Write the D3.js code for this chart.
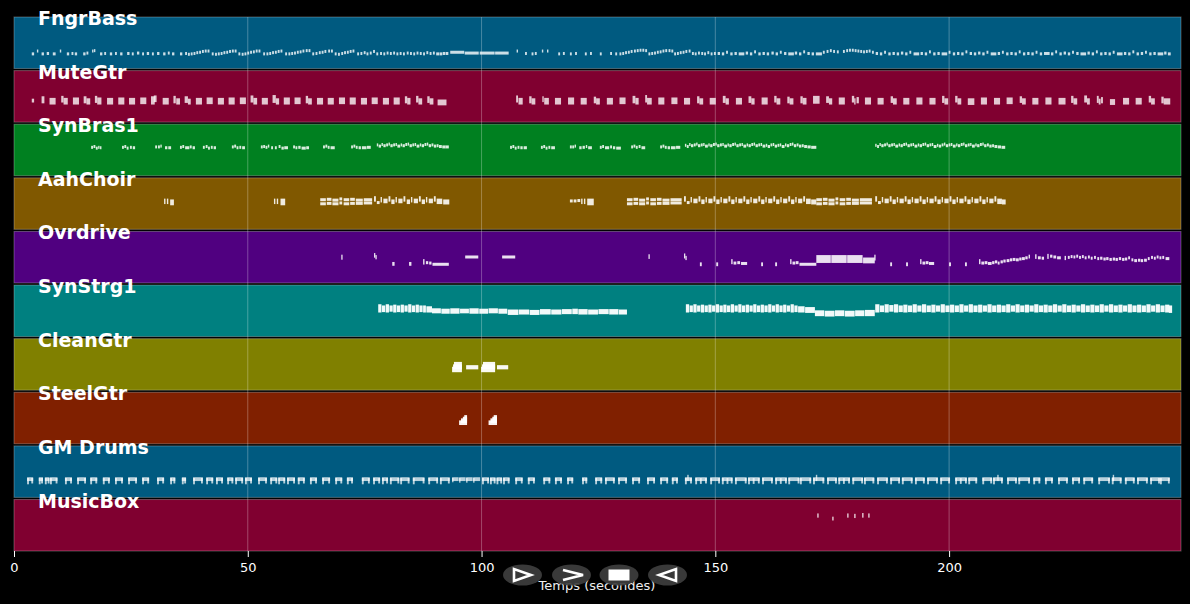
<!DOCTYPE html>
<html><head><meta charset="utf-8">
<script src="https://cdn.jsdelivr.net/npm/d3@7"></script>
<style>
html,body{margin:0;padding:0;background:#000;}
svg{display:block;}
</style></head><body>
<svg id="chart" width="1190" height="604"></svg>
<script>
const tracks = ["FngrBass","MuteGtr","SynBras1","AahChoir","Ovrdrive","SynStrg1","CleanGtr","SteelGtr","GM Drums","MusicBox"];
const trackColors = ["#005a80","#800030","#008020","#805800","#500080","#008080","#808000","#802000","#005a80","#800030"];
const xTicks = [0,50,100,150,200];
const songLength = 249.6;
const axisTitle = "Temps (secondes)";
// notes: [start (s), duration (s), pitch low, pitch high (optional, chords)]
const fngrBass = [
[3.8,.5,36],[4.9,.3,43],[5.9,.5,36],[7.0,.5,37],[8.3,.6,36],[9.8,.3,43],[11.3,.5,36],[12.3,.4,37],[13.0,.5,36],[14.8,.5,36],[15.5,.4,38],[16.7,.3,43],[17.1,.3,44],[18.4,.5,36],[19.3,.4,37],[20.5,.5,36],[21.6,.4,37],[22.7,.5,36],[24.2,.5,37],[25.2,.4,36],[26.3,.5,38],[27.4,.4,36],[28.4,.5,37],[29.5,.4,36],[30.6,.5,37],[31.9,.5,36],[32.9,.4,38],[33.8,.5,36],[35.5,.5,36],[36.6,.4,37],
[37.2,.4,35],[37.8,.4,36],[38.4,.4,37],[39.0,.4,39],[39.6,.4,40],[40.2,.4,42],[40.8,.4,43],[41.4,.4,43],[42.3,.4,36],[43.0,.4,35],[43.6,.4,36],[44.2,.4,37],[44.8,.4,39],[45.4,.4,40],[46.0,.4,42],[46.6,.4,43],[47.2,.4,43],[48.0,.4,36],[48.7,.4,35],[49.3,.4,36],[49.9,.4,38],[50.5,.4,40],[51.1,.4,41],[51.7,.4,43],[52.3,.4,43],[53.3,.4,36],[54.0,.4,36],[54.6,.4,37],[55.2,.4,39],[55.8,.4,40],[56.4,.4,42],[57.0,.4,43],[58.0,.4,36],[58.7,.4,36],[59.3,.4,37],[59.9,.4,38],[60.5,.4,40],[61.1,.4,41],[61.7,.4,43],[62.4,.4,44],[63.0,.4,44],[63.8,.4,36],[64.5,.4,37],[65.2,.4,39],[65.8,.4,40],[66.4,.4,42],[67.2,.4,43],[67.8,.4,43],[68.6,.4,36],[69.3,.4,35],[70.0,.4,37],[70.6,.4,39],[71.2,.4,40],[71.8,.4,42],[72.4,.4,43],[73.4,.4,36],[74.1,.4,37],[74.8,.4,39],[75.4,.4,36],[76.1,.4,38],[76.8,.4,42],[77.5,.4,36],[78.3,.4,37],[79.0,.4,36],[79.7,.4,38],[80.4,.4,37],[81.1,.4,38],[81.8,.4,36],[82.5,.4,37],[83.2,.4,36],[84.0,.4,38],[84.7,.4,37],[85.4,.4,36],[86.1,.4,38],[86.8,.4,37],[87.5,.4,36],[88.2,.4,39],[88.9,.4,37],[89.6,.4,38],[90.3,.6,36],[91.0,.6,36],[91.7,.5,37],[92.3,.6,37],
[93.3,3.0,40],[96.4,3.0,38],[99.6,3.2,38],[102.9,2.9,38],
[107.5,.3,43],[109.3,.4,37],[110.7,.4,36],[111.4,.4,37],[112.9,.3,43],[114.0,.3,43],[116.4,.4,36],[117.4,.4,37],[118.9,.4,36],[120.0,.4,37],[122.1,.4,36],[123.2,.4,37],[125.3,.4,36],[127.5,.4,37],[128.6,.4,36],
[129.5,.4,36],[130.1,.4,37],[130.7,.4,39],[131.3,.4,40],[131.9,.4,42],[132.6,.4,43],[133.2,.4,44],[133.8,.4,45],[134.4,.4,45],[135.0,.4,44],[135.7,.4,36],[136.3,.4,37],[136.9,.4,38],[137.5,.4,40],[138.1,.4,41],[138.7,.4,43],[139.3,.4,44],[140.0,.4,44],[140.6,.4,43],[141.2,.4,36],[141.8,.4,37],[142.4,.4,39],[143.0,.4,40],[143.6,.4,42],[144.3,.4,43],[145.0,.4,37],[145.6,.4,36],[146.3,.4,38],[147.0,.4,37],[147.6,.4,36],[148.3,.4,39],[149.0,.4,36],[149.7,.4,37],
[150.5,.5,37],[151.4,.5,36],[152.3,.4,40],[153.2,.5,36],[154.1,.5,37],[155.0,1.2,36],[156.5,.5,38],[157.4,.5,36],[158.3,.4,41],[159.2,.5,36],[160.1,.5,37],[161.0,.5,36],[162.0,.5,38],[162.9,.5,36],[163.8,.4,40],[164.7,.5,37],[165.6,1.2,36],[167.0,.5,38],[167.9,.5,36],[168.8,.4,41],[169.7,.5,37],[170.6,.5,36],[171.5,1.3,36],[173.0,.4,40],[173.8,.4,42],[174.5,.4,44],[175.2,.4,42],[176.0,.4,41],[177.3,.4,42],[178.0,.4,44],[178.6,.4,45],[179.2,.4,45],[179.8,.4,44],[180.4,.4,43],[181.0,.4,42],[181.6,.4,41],[182.2,.4,42],[182.8,.4,43],[183.5,.4,40],[184.3,.5,37],[185.2,.5,36],[186.1,.4,40],[187.0,.5,36],[187.9,.5,37],[188.8,.5,36],[189.7,.5,38],[190.6,.5,36],[191.5,.4,40],[192.4,1.2,36],[193.9,.5,37],[194.8,.5,36],[195.7,.4,41],[196.6,.5,36],[197.5,.5,37],[198.4,1.2,36],[199.9,.4,40],[200.8,.5,36],[201.7,.5,37],[202.6,.5,36],[203.5,.4,41],[204.4,.5,37],[205.3,.5,36],[206.2,.5,38],[207.1,.5,36],[208.0,.4,40],[208.9,1.2,36],[210.4,.5,37],[211.3,.4,40],[212.2,.5,36],[213.1,.5,37],[214.0,.5,36],[214.9,.4,41],[215.8,.5,36],[216.7,.5,37],[217.6,.5,36],[218.5,.4,40],[219.4,.5,36],[220.3,1.2,37],[221.8,.5,36],[222.7,.4,41],[223.6,.5,36],[224.5,.5,38],[225.4,.5,36],[226.3,.4,40],[227.2,.5,37],[228.1,1.2,36],[229.6,.5,38],[230.5,.5,36],[231.4,.4,41],[232.3,.5,36],[233.2,.5,37],[234.1,.5,36],[235.0,.4,40],[235.9,1.2,36],[237.4,.5,37],[238.3,.5,36],[239.2,.4,41],[240.1,.5,36],[241.0,.5,37],[241.9,.4,40],[242.8,.5,36],[243.7,.5,37],[244.6,1.2,36],[246.0,.5,38],[246.8,.6,36]
];
const muteGtr = [
[3.8,.5,52,54],[5.9,.6,50,60],[7.6,1.3,47,56],[10.1,.5,52,61],[10.6,.9,47,56],[12.6,1.3,47,57],[14.9,.6,50,60],[15.5,.8,47,55],[17.3,.5,51,61],[17.8,.9,47,57],[19.9,1.3,47,56],[22.3,1.3,47,57],[24.6,1.3,47,56],[27.0,1.3,48,57],[29.3,.8,47,60],[29.9,.6,53,62],[31.8,1.3,47,56],[34.1,.5,50,61],[34.7,.8,47,55],[36.5,.7,51,60],[37.2,.6,47,54],[38.9,1.3,47,56],[41.2,1.3,48,57],[43.6,1.3,47,56],[45.9,1.3,47,57],[48.3,1.3,48,57],[50.6,.6,52,62],[51.2,.8,47,56],[53.0,1.3,47,56],[55.3,.7,51,63],[56.0,.7,47,55],[57.7,1.3,47,57],[60.0,1.3,48,57],[62.4,.5,50,61],[62.9,.8,47,55],[64.8,1.3,47,56],[67.1,1.3,47,56],[69.5,1.3,48,57],[71.8,1.3,47,57],[74.2,1.3,47,56],[76.5,1.3,48,57],[78.9,1.3,47,56],[81.2,1.3,47,57],[83.6,.5,50,60],[84.1,.7,47,56],[86.0,.5,52,61],[86.5,.8,47,55],[88.4,.5,51,60],[88.9,.8,47,55],[90.6,1.9,45,52],
[107.4,.4,52,62],[107.9,.9,47,56],[110.2,.5,50,60],[110.7,.8,47,55],[113.0,.3,53,60],[113.4,1.0,47,56],[115.7,1.3,47,56],[118.5,1.3,47,57],[121.2,1.3,47,56],[124.0,.5,50,59],[124.5,.8,47,55],[126.8,1.3,47,56],[129.5,1.3,48,57],[132.3,.6,50,61],[132.9,.7,47,56],[135.0,.4,52,63],[135.4,1.0,47,56],[137.8,1.3,47,57],[140.6,1.3,48,57],[143.3,1.3,47,56],[146.1,.5,50,60],[146.6,.8,47,55],[148.8,1.3,47,56],[151.6,.6,51,61],[152.2,.7,47,55],[154.4,1.3,47,56],[157.1,.6,51,60],[157.7,.7,47,55],[159.9,1.3,47,57],[162.6,.5,52,61],[163.1,.8,47,55],[165.4,.5,50,59],[165.9,.8,47,55],[168.2,.5,50,60],[168.7,.8,47,56],[170.9,1.4,49,61],[173.7,.6,51,60],[174.3,.7,47,55],[176.4,1.3,47,57],[179.2,.5,52,61],[179.7,.3,47,55],[180.2,.5,50,58],[182.0,1.3,47,57],[184.7,1.3,47,56],[187.5,.5,51,60],[188.0,.8,47,55],[190.2,1.3,47,56],[193.0,1.3,47,57],[195.8,1.3,47,56],[198.5,.5,51,61],[199.0,.8,47,55],[201.3,.5,52,61],[201.8,.8,47,55],[204.0,1.4,46,55],[206.8,1.3,47,57],[209.6,1.3,47,56],[212.3,1.3,48,57],[215.1,.5,51,60],[215.6,.8,47,55],[217.8,1.3,47,56],[220.6,1.3,47,57],[223.4,1.5,47,56],[226.1,.5,51,61],[226.6,.8,47,55],[228.9,.6,52,62],[229.5,.6,47,55],[231.6,.4,51,61],[232.0,.4,47,54],[232.5,.4,50,58],[234.4,1.1,46,53],[237.2,1.3,47,56],[239.9,1.3,47,56],[242.7,.5,52,61],[243.2,.8,47,55],[245.4,.5,50,59],[245.9,1.4,47,55]
];
const synBras1 = [
[16.5,.4,70],[17.0,.4,72],[17.5,.4,68],[18.0,.3,70],[18.4,.3,69],
[23.1,.4,70],[23.6,.4,72],[24.1,.4,68],[24.8,.4,70],[25.4,.5,69],
[30.2,.4,71],[30.8,.4,71],[31.3,.3,73],[32.3,.5,69],[33.0,.6,69],
[35.5,.4,70],[36.0,.4,72],[36.6,.9,69],[37.6,.4,71],[38.2,.5,69],
[40.4,.4,70],[41.0,.4,72],[41.5,.4,68],[42.1,.4,70],[42.7,.5,69],
[46.6,.4,71],[47.1,.4,73],[47.6,.4,69],[48.2,.4,70],[48.8,.6,69],
[52.8,.4,71],[53.3,.4,72],[53.8,.4,70],[54.3,.3,73],[55.0,.4,69],[55.8,.4,69],[56.6,.4,72],[57.2,.5,68],[57.8,.8,69],
[59.7,.4,71],[60.2,.4,69],[60.8,.5,70],[61.5,.9,68],[62.5,.6,69],
[66.1,.4,71],[66.6,.4,73],[67.1,.4,70],[67.7,.9,69],
[72.1,.4,71],[72.6,.4,73],[73.1,.4,70],[73.7,.5,69],[74.4,1.0,69],[75.5,.8,70],
[77.6,.3,76],[78.0,.5,73],[78.6,.3,77],[79.0,.5,74],[79.6,.4,76],[80.1,.3,78],[80.5,.5,74],[81.1,.4,76],[81.6,.3,77],[82.0,.6,73],[82.7,.3,76],[83.1,.5,74],[83.7,.4,77],[84.2,.3,78],[84.6,.5,74],[85.2,.4,76],[85.7,.3,77],[86.1,.6,73],[86.8,.3,76],[87.2,.5,74],[87.8,.4,77],[88.3,.3,78],[88.7,.5,74],[89.3,.4,76],[89.8,.5,73],[90.4,.4,74],[90.9,.6,72],[91.6,.7,71],[92.3,.7,71],
[106.1,.4,70],[106.6,.4,72],[107.1,.4,68],[107.7,.4,70],[108.3,.5,69],[109.0,.7,69],
[112.7,.4,70],[113.2,.4,72],[113.7,.4,68],[114.3,.4,70],[114.9,.8,69],
[118.9,.4,71],[119.4,.4,71],[119.9,.3,73],[120.9,.5,69],[121.6,.5,70],[122.3,.3,72],[122.8,.8,69],
[125.3,.4,70],[125.8,.4,72],[126.4,.9,69],[127.5,.4,71],[128.1,.5,69],[128.8,1.0,68],
[132.0,.4,71],[132.5,.4,73],[133.0,.4,70],[133.6,.4,72],[134.2,.8,69],
[138.2,.4,71],[138.7,.4,73],[139.2,.4,70],[139.8,.5,69],[140.5,1.0,69],[141.6,.9,70],
[143.5,.3,75],[143.9,.4,72],[144.4,.3,77],[144.8,.5,74],[145.4,.4,76],[145.9,.3,78],[146.3,.5,74],[146.9,.4,76],[147.4,.3,77],[147.8,.6,73],[148.5,.3,76],[148.9,.5,74],[149.5,.4,77],[150.0,.3,78],[150.4,.5,74],[151.0,.4,76],[151.5,.3,77],[151.9,.6,73],[152.6,.3,76],[153.0,.5,74],[153.6,.4,77],[154.1,.3,78],[154.5,.5,74],[155.1,.4,76],[155.6,.3,77],[156.0,.6,73],[156.7,.3,76],[157.1,.5,74],[157.7,.4,77],[158.2,.3,78],[158.6,.5,74],[159.2,.4,76],[159.7,.3,77],[160.1,.6,73],[160.8,.3,75],[161.2,.5,72],[161.8,.4,76],[162.3,.3,77],[162.7,.5,73],[163.3,.4,75],[163.8,.3,76],[164.2,.6,72],[164.9,.3,76],[165.3,.5,74],[165.9,.4,77],[166.4,.3,78],[166.8,.5,74],[167.4,.4,76],[167.9,.5,73],[168.5,.4,74],[169.0,.6,72],[169.7,.7,71],[170.5,1.1,70],
[184.2,.3,75],[184.6,.4,72],[185.1,.3,77],[185.5,.5,74],[186.1,.4,76],[186.6,.3,78],[187.0,.5,74],[187.6,.4,76],[188.1,.3,77],[188.5,.6,73],[189.2,.3,76],[189.6,.5,74],[190.2,.4,77],[190.7,.3,78],[191.1,.5,74],[191.7,.4,76],[192.2,.3,77],[192.6,.6,73],[193.3,.3,76],[193.7,.5,74],[194.3,.4,77],[194.8,.3,78],[195.2,.5,74],[195.8,.4,76],[196.3,.3,77],[196.7,.6,72],[197.4,.3,75],[197.8,.5,73],[198.4,.4,76],[198.9,.3,78],[199.3,.5,74],[199.9,.4,76],[200.4,.3,77],[200.8,.6,73],[201.5,.3,76],[201.9,.5,74],[202.5,.4,77],[203.0,.3,78],[203.4,.5,74],[204.0,.4,76],[204.5,.3,77],[204.9,.6,73],[205.6,.3,76],[206.0,.5,74],[206.6,.4,77],[207.1,.3,78],[207.5,.5,74],[208.1,.4,76],[208.6,.5,73],[209.2,.4,74],[209.7,.6,72],[210.4,.7,71],[211.2,.8,70]
];
const aahChoir = [
[32.1,.3,66,72],[32.7,.3,66,72],[33.4,.8,63,70],
[55.6,.3,66,72],[56.2,.3,66,72],[57.0,1.0,63,72],
[65.5,1.2,63],[65.5,1.2,73],[66.9,1.0,64],[66.9,1.0,74],[68.1,1.3,63],[68.1,1.3,72],[69.6,.6,65],[69.6,.6,75],[70.5,1.2,63],[70.5,1.2,73],[71.9,1.0,64],[71.9,1.0,74],[73.1,1.5,64],[73.1,1.5,72],[74.8,1.8,65],[74.8,1.8,73],
[77.0,.4,72,78],[77.6,.6,66],[78.4,.3,70,76],[79.0,.9,68,72],[80.1,.4,72,78],[80.7,.7,66,70],[81.6,.3,70,76],[82.2,.9,68,72],[83.3,.4,72,78],[84.0,.7,66,70],[84.9,.3,70,76],[85.5,.9,68,72],[86.6,.4,72,78],[87.2,.7,66,70],[88.1,.3,70,76],[88.7,.9,68,72],[89.8,.4,72,78],[90.4,1.2,66,72],[91.8,1.3,65,70],
[118.9,.6,70],[119.7,.6,70],[120.5,.6,71],[121.3,.3,66,72],[121.9,.3,66,72],[122.6,1.4,63,72],
[131.1,1.2,63],[131.1,1.2,73],[132.5,1.0,64],[132.5,1.0,74],[133.7,1.3,63],[133.7,1.3,72],[135.2,.6,65],[135.2,.6,75],[136.1,1.2,63],[136.1,1.2,73],[137.5,1.0,64],[137.5,1.0,74],[138.7,1.5,64],[138.7,1.5,72],[140.4,2.4,65],[140.4,2.4,73],
[143.3,.4,72,78],[143.9,.6,66],[144.7,.3,70,76],[145.3,.9,68,72],[146.4,.4,72,78],[147.0,.7,66,70],[147.9,.3,70,76],[148.5,.9,68,72],[149.6,.4,72,78],[150.2,.7,66,70],[151.1,.3,70,76],[151.7,.9,68,72],[152.8,.4,72,78],[153.4,.7,66,70],[154.3,.3,70,76],[154.9,.9,68,72],[156.0,.4,72,78],[156.6,.7,66,70],[157.5,.3,70,76],[158.1,.9,68,72],[159.2,.4,72,78],[159.8,.7,66,70],[160.7,.3,70,76],[161.3,.9,68,72],[162.4,.4,72,78],[163.0,.7,66,70],[163.9,.3,70,76],[164.5,.9,68,72],[165.6,.4,72,78],[166.2,.7,66,70],[167.1,.3,70,76],[167.7,.9,68,72],[168.8,.4,72,78],[169.4,1.0,66,72],[170.5,1.1,65,70],
[171.6,1.2,63],[171.6,1.2,73],[173.0,1.0,64],[173.0,1.0,74],[174.2,1.3,63],[174.2,1.3,72],[175.7,.6,65],[175.7,.6,75],[176.6,1.2,63],[176.6,1.2,73],[178.0,1.0,64],[178.0,1.0,74],[179.2,1.5,64],[179.2,1.5,72],[180.9,2.6,65],[180.9,2.6,73],
[184.2,.4,72,78],[184.8,.6,66],[185.6,.3,70,76],[186.2,.9,68,72],[187.3,.4,72,78],[187.9,.7,66,70],[188.8,.3,70,76],[189.4,.9,68,72],[190.5,.4,72,78],[191.1,.7,66,70],[192.0,.3,70,76],[192.6,.9,68,72],[193.7,.4,72,78],[194.3,.7,66,70],[195.2,.3,70,76],[195.8,.9,68,72],[196.9,.4,72,78],[197.5,.7,66,70],[198.4,.3,70,76],[199.0,.9,68,72],[200.1,.4,72,78],[200.7,.7,66,70],[201.6,.3,70,76],[202.2,.9,68,72],[203.3,.4,72,78],[203.9,.7,66,70],[204.8,.3,70,76],[205.4,.9,68,72],[206.5,.4,72,78],[207.1,.7,66,70],[208.0,.3,70,76],[208.6,.9,68,72],[209.7,.4,72,78],[210.3,1.0,66,72],[211.3,.8,65,70]
];
const ovrdrive = [
[70.0,.2,61,66],[77.0,.2,66,70],[77.3,.2,62,65],[80.9,.5,46,48],[84.5,.5,46,48],[87.5,.3,49,55],[88.1,.5,50],[88.8,.5,49],[89.5,3.5,46],[96.5,2.8,64],[104.4,2.8,64],
[135.7,.2,63,67],[143.3,.2,64,69],[143.6,.2,60,63],[146.7,.4,45,47],[150.2,.4,45,47],[153.4,.3,50,55],[153.9,.6,49],[154.7,.6,50],[155.5,1.3,48],[159.8,.4,45,47],[162.8,.4,45,47],[166.0,.3,50,55],[166.5,.6,49],[167.2,.6,50],[168.0,3.6,46],
[171.6,3.1,53,65],[174.8,3.3,53,65],[178.2,3.3,53,65],[181.6,2.5,52,59],[184.0,.2,59,66],
[187.4,.4,45,47],[190.8,.4,45,47],[193.8,.3,50,55],[194.3,.6,49],[195.0,.6,50],[195.7,1.1,48],[200.0,.4,45,47],[203.4,.4,45,47],
[206.4,.3,50,55],[206.9,.6,49],[207.6,.6,50],[208.3,.8,48],[209.2,.5,50],[209.8,.5,52],[210.4,.4,49],[211.0,.5,52],[211.6,.5,54],[212.3,.6,55],[213.0,.5,57],[213.6,.6,58],[214.3,.6,57],[215.0,.5,59],[215.6,.6,60],[216.3,.5,62],[217.0,.3,64,66],[218.4,.3,63,67],[219.0,.6,62],[219.8,.5,61],[221.0,.3,63,68],[221.6,.5,66],[222.3,.6,64],[223.1,.8,62],[224.7,.3,60,63],[225.4,.4,63],[226.0,.4,65],[226.6,.4,64],[227.2,.4,66],[227.8,.4,63],[228.4,.4,65],[229.0,.4,62],[229.7,.4,64],[230.3,.4,61],[231.0,.4,63],[231.7,.4,60],[232.3,.5,61],[233.0,.5,59],[233.6,.5,60],[234.3,.5,58],[235.0,.5,59],[235.6,.5,58],[236.3,.5,60],[237.0,.5,58],[237.6,.5,59],[238.3,.4,62],[239.0,.4,57],[239.6,.6,55],[240.4,.5,56],[241.0,.5,55],[241.7,.6,56],[242.5,.4,60],[243.2,.4,63],[243.8,.4,61],[244.4,.4,64],[245.0,.4,62],[245.6,.4,63],[246.3,.8,60]
];
const synStrg1 = [
[77.9,.7,63,76],[78.7,.7,64,73],[79.5,.7,63,76],[80.3,.7,65,73],[81.1,.7,63,75],[81.9,.7,64,73],[82.7,.7,63,75],[83.5,.7,65,73],[84.3,.7,63,76],[85.1,.7,64,73],[85.9,.7,63,75],[86.7,.7,64,73],[87.5,.6,63,73],[88.2,1.2,63,71],
[89.4,1.9,61,66],[91.4,1.8,60,65],[93.3,2.0,60,66],[95.4,1.9,61,65],[97.4,2.0,60,66],[99.5,1.9,60,65],[101.5,2.0,61,66],[103.6,1.9,60,65],
[105.6,2.3,57,63],[108.0,2.2,58,63],[110.3,2.1,57,62],[112.5,2.3,58,64],[114.9,2.2,58,63],[117.2,2.1,59,64],[119.4,1.2,59,65],[120.7,2.0,58,64],[122.8,2.1,58,63],[125.0,2.2,59,64],[127.3,2.0,58,64],[129.4,1.7,58,63],
[143.7,.7,63,76],[144.5,.7,64,73],[145.3,.7,63,76],[146.1,.7,65,73],[146.9,.7,63,75],[147.7,.7,64,73],[148.5,.7,63,75],[149.3,.7,65,73],[150.1,.7,63,76],[150.9,.7,64,73],[151.7,.7,63,75],[152.5,.7,64,73],[153.3,.7,63,76],[154.1,.7,65,73],[154.9,.7,63,76],[155.7,.7,64,73],[156.5,.7,63,75],[157.3,.7,65,73],[158.1,.7,63,76],[158.9,.7,64,73],[159.7,.7,63,75],[160.5,.7,64,73],[161.3,.7,63,76],[162.1,.7,65,73],[162.9,.7,63,76],[163.7,.7,64,73],[164.5,.7,63,75],[165.3,.7,65,73],[166.1,.7,63,76],[166.9,.7,64,73],[167.7,1.4,63,71],[169.2,2.1,62,69],
[171.3,2.0,54,61],[173.4,2.1,53,60],[175.6,2.0,54,61],[177.7,2.1,53,60],[179.9,2.0,54,61],[182.0,2.1,54,62],
[184.2,.9,63,76],[185.2,.9,64,73],[186.2,.9,63,76],[187.2,.9,65,74],[188.2,.9,63,76],[189.2,.9,64,73],[190.2,.9,63,75],[191.2,.9,64,73],[192.2,.9,63,76],[193.2,.9,65,73],[194.2,.9,63,76],[195.2,.9,64,73],[196.2,.9,63,75],[197.2,.9,65,73],[198.2,.9,63,76],[199.2,.9,64,73],[200.2,.9,63,75],[201.2,.9,64,73],[202.2,.9,63,76],[203.2,.9,65,73],[204.2,.9,63,76],[205.2,.9,64,73],[206.2,.9,63,75],[207.2,.9,65,73],[208.2,.9,63,76],[209.2,.9,64,73],[210.2,.9,63,75],[211.2,.9,64,73],[212.2,.9,63,76],[213.2,.9,65,73],[214.2,.9,63,76],[215.2,.9,64,73],[216.2,.9,63,75],[217.2,.9,65,73],[218.2,.9,63,76],[219.2,.9,64,73],[220.2,.9,63,75],[221.2,.9,64,73],[222.2,.9,63,76],[223.2,.9,65,73],[224.2,.9,63,76],[225.2,.9,64,73],[226.2,.9,63,75],[227.2,.9,65,73],[228.2,.9,63,76],[229.2,.9,64,73],[230.2,.9,63,75],[231.2,.9,64,73],[232.2,.9,63,76],[233.2,.9,65,73],[234.2,.9,63,76],[235.2,.9,64,73],[236.2,.9,63,75],[237.2,.9,65,73],[238.2,.9,63,76],[239.2,.9,64,73],[240.2,.9,63,75],[241.2,.9,64,73],[242.2,.9,63,76],[243.2,.9,65,73],[244.2,.9,63,76],[245.2,.9,64,73],[246.2,.9,63,75],[247.0,.7,62,73]
];
const cleanGtr = [
[93.7,2.1,48,54],[93.9,1.9,55,60],[94.1,1.7,60,66],[96.7,2.6,55,58],
[99.9,3.0,48,54],[100.1,2.8,55,60],[100.3,2.6,60,66],[103.3,2.4,55,58]
];
const steelGtr = [
[95.2,1.7,50,54],[95.6,1.3,55,59],[96.0,.9,60,63],[96.3,.6,64,67],
[101.5,1.8,50,54],[101.9,1.4,55,59],[102.3,1.0,60,63],[102.6,.7,64,67]
];
const gmDrums = [
[2.8,1.3,44,46],[2.8,.4,36,44],[3.7,.4,38,44],[5.3,.9,44,46],[5.3,.4,36,44],[5.8,.4,38,44],[6.6,1.0,44,46],[6.6,.4,36,44],[7.2,.4,38,44],[7.7,1.6,44,46],[7.7,.4,36,44],[8.9,.4,38,44],
[10.9,1.5,44,46],[10.9,.4,36,44],[12.0,.4,38,44],[13.5,1.9,44,46],[13.5,.4,36,44],[15.0,.4,38,44],[16.3,1.5,44,46],[16.3,.4,36,44],[17.4,.4,38,44],[19.0,1.5,44,46],[19.0,.4,36,44],[20.1,.4,38,44],
[21.6,1.7,44,46],[21.6,.4,36,44],[22.9,.4,38,44],[24.4,1.9,44,46],[24.4,.4,36,44],[25.9,.4,38,44],[27.4,1.5,44,46],[27.4,.4,36,44],[28.5,.4,38,44],[30.6,1.5,44,46],[30.6,.4,36,44],[31.7,.4,38,44],
[33.4,1.1,44,46],[33.4,.4,36,44],[34.1,.4,38,44],[35.9,.9,44,46],[35.9,.4,36,44],[36.4,.4,38,44],[38.3,2.1,44,46],[38.3,.4,36,44],[40.0,.4,38,44],[41.1,1.5,44,46],[41.1,.4,36,44],[42.2,.4,38,44],
[43.2,1.5,44,46],[43.2,.4,36,44],[44.3,.4,38,44],[45.6,1.3,44,46],[45.6,.4,36,44],[46.5,.4,38,44],[47.3,1.7,44,46],[47.3,.4,36,44],[48.6,.4,38,44],[49.4,1.5,44,46],[49.4,.4,36,44],[50.5,.4,38,44],
[52.2,1.9,44,46],[52.2,.4,36,44],[53.7,.4,38,44],[54.8,1.5,44,46],[54.8,.4,36,44],[55.9,.4,38,44],[56.5,1.5,44,46],[56.5,.4,36,44],[57.6,.4,38,44],[58.4,1.7,44,46],[58.4,.4,36,44],[59.7,.4,38,44],
[60.7,1.5,44,46],[60.7,.4,36,44],[61.8,.4,38,44],[63.3,1.5,44,46],[63.3,.4,36,44],[64.4,.4,38,44],[65.9,1.7,44,46],[65.9,.4,36,44],[67.2,.4,38,44],[68.7,1.5,44,46],[68.7,.4,36,44],[69.8,.4,38,44],
[71.2,1.3,44,46],[71.2,.4,36,44],[72.1,.4,38,44],[74.4,1.7,44,46],[74.4,.4,36,44],[75.7,.4,38,44],[76.8,1.5,44,46],[76.8,.4,36,44],[77.9,.4,38,44],[78.7,1.3,44,46],[78.7,.4,36,44],[79.6,.4,38,44],
[80.4,2.0,44,46],[80.4,.4,36,44],[82.0,.4,38,44],[82.6,2.0,44,46],[82.6,.4,36,44],[84.2,.4,38,44],[85.3,2.5,44,46],[85.3,.4,36,44],[87.4,.4,38,44],[88.6,2.1,44,46],[88.6,.4,36,44],[90.3,.4,38,44],[91.1,2.1,44,46],[91.1,.4,36,44],[92.8,.4,38,44],
[93.7,1.4,44,46],[93.7,.3,41,44],[95.2,1.4,44,46],[95.2,.3,40,44],[96.7,1.4,44,46],[96.7,.3,40,44],[98.2,1.5,44,46],[98.2,.3,40,44],
[100.1,1.5,44,46],[100.1,.4,36,44],[101.2,.4,38,44],[101.8,1.2,44,46],[101.8,.4,36,44],[102.6,.4,38,44],[103.2,1.2,44,46],[103.2,.4,36,44],[104.0,.4,38,44],[104.6,1.4,44,46],[104.6,.4,36,44],[105.6,.4,38,44],
[107.2,1.6,44,46],[107.2,.4,36,44],[108.4,.4,38,44],[109.9,1.5,44,46],[109.9,.4,36,44],[111.0,.4,38,44],[113.2,1.5,44,46],[113.2,.4,36,44],[114.3,.4,38,44],[115.7,1.5,44,46],[115.7,.4,36,44],[116.8,.4,38,44],
[118.3,1.3,44,46],[118.3,.4,36,44],[119.2,.4,38,44],[121.5,1.1,44,46],[121.5,.4,36,44],[122.2,.4,38,44],[124.3,1.5,44,46],[124.3,.4,36,44],[125.4,.4,38,44],[126.4,2.1,44,46],[126.4,.4,36,44],[128.1,.4,38,44],
[129.2,1.9,44,46],[129.2,.4,36,44],[130.7,.4,38,44],[132.2,1.7,44,46],[132.2,.4,36,44],[133.5,.4,38,44],[135.4,1.7,44,46],[135.4,.4,36,44],[136.7,.4,38,44],[138.2,1.7,44,46],[138.2,.4,36,44],[139.5,.4,38,44],
[140.7,1.3,44,46],[140.7,.4,36,44],[141.6,.4,38,44],[143.5,1.5,44,46],[143.5,.4,36,44],[144.6,.4,38,44],[144.0,.3,44,52],[145.7,2.5,44,46],[145.7,.4,36,44],[146.7,.4,37,44],[147.8,.4,38,44],
[148.9,2.1,44,46],[148.9,.4,36,44],[150.6,.4,38,44],[151.4,2.3,44,46],[151.4,.4,36,44],[152.4,.4,37,44],[153.3,.4,38,44],[154.2,2.5,44,46],[154.2,.4,36,44],[156.3,.4,38,44],
[157.0,2.5,44,46],[157.0,.4,36,44],[158.0,.4,37,44],[159.1,.4,38,44],[160.0,2.3,44,46],[160.0,.4,36,44],[161.9,.4,38,44],[162.8,2.5,44,46],[162.8,.4,36,44],[163.8,.4,37,44],[164.9,.4,38,44],
[165.6,2.4,44,46],[165.6,.4,36,44],[167.6,.4,38,44],[168.1,2.4,44,46],[168.1,.4,36,44],[170.1,.4,38,44],[170.9,2.4,44,46],[170.9,.4,36,44],[171.5,.3,44,52],[172.9,.4,38,44],
[173.9,2.1,44,46],[173.9,.4,36,44],[175.6,.4,38,44],[176.3,2.5,44,46],[176.3,.4,36,44],[177.3,.4,37,44],[178.4,.4,38,44],[179.3,2.3,44,46],[179.3,.4,36,44],[181.2,.4,38,44],[181.8,2.2,44,46],[181.8,.4,36,44],[183.6,.4,38,44],
[184.6,2.3,44,46],[184.6,.4,36,44],[186.5,.4,38,44],[187.4,2.1,44,46],[187.4,.4,36,44],[189.1,.4,38,44],[189.9,2.3,44,46],[189.9,.4,36,44],[191.8,.4,38,44],[192.7,2.1,44,46],[192.7,.4,36,44],[194.4,.4,38,44],
[195.3,2.3,44,46],[195.3,.4,36,44],[197.2,.4,38,44],[198.1,2.1,44,46],[198.1,.4,36,44],[199.8,.4,38,44],[201.3,2.5,44,46],[201.3,.4,36,44],[202.3,.4,37,44],[203.4,.4,38,44],[204.1,1.9,44,46],[204.1,.4,36,44],[205.6,.4,38,44],
[207.1,2.1,44,46],[207.1,.4,36,44],[208.8,.4,38,44],[209.4,2.1,44,46],[209.4,.4,36,44],[210.3,.3,44,52],[211.1,.4,38,44],[212.4,2.1,44,46],[212.4,.4,36,44],[214.1,.4,38,44],[214.8,2.5,44,46],[214.8,.4,36,44],[216.9,.4,38,44],
[218.0,1.5,44,46],[218.0,.4,36,44],[219.1,.4,38,44],[220.5,1.7,44,46],[220.5,.4,36,44],[221.8,.4,38,44],[223.3,2.1,44,46],[223.3,.4,36,44],[225.0,.4,38,44],[226.3,1.7,44,46],[226.3,.4,36,44],[227.6,.4,38,44],
[228.7,2.1,44,46],[228.7,.4,36,44],[230.4,.4,38,44],[231.9,2.5,44,46],[231.9,.4,36,44],[234.0,.4,38,44],[234.8,2.1,44,46],[234.8,.4,36,44],[235.0,.3,44,52],[236.5,.4,38,44],[237.6,2.1,44,46],[237.6,.4,36,44],[239.3,.4,38,44],
[240.2,2.3,44,46],[240.2,.4,36,44],[242.1,.4,38,44],[243.0,2.1,44,46],[243.0,.4,36,44],[244.7,.4,38,44],[245.1,2.1,44,46],[245.1,.4,36,44],[246.8,.4,38,44]
];
const musicBox = [
[171.8,.3,86,89],[175.0,.3,79,81],[178.2,.3,86,89],[179.7,.3,85,88],[181.4,.3,86,90],[182.7,.3,86,89]
];
const trackNotes = [fngrBass, muteGtr, synBras1, aahChoir, ovrdrive, synStrg1, cleanGtr, steelGtr, gmDrums, musicBox];
const trackNoteOpacity = [0.8, 0.78, 0.85, 0.88, 0.88, 0.95, 0.95, 0.95, 0.72, 0.8];

const svg = d3.select("#chart");
const W = 1190, H = 604;
svg.append("rect").attr("width", W).attr("height", H).attr("fill", "#000");

const x = d3.scaleLinear().domain([0, songLength]).range([14, 1181]);
const yBand = d3.scaleBand().domain(tracks).range([17, 551]).paddingInner(0.04);
const bw = yBand.bandwidth();
const yP = d3.scaleLinear().domain([0, 127]).range([bw, 0]);

// bands
svg.append("g").selectAll("rect").data(tracks).join("rect")
  .attr("x", x(0)).attr("y", d => yBand(d))
  .attr("width", x(songLength) - x(0)).attr("height", bw)
  .attr("fill", (d, i) => trackColors[i])
  .attr("stroke", "rgba(255,255,255,0.28)").attr("stroke-width", 1);

// grid
svg.append("g").selectAll("line").data(xTicks.filter(d => d > 0)).join("line")
  .attr("x1", d => x(d)).attr("x2", d => x(d))
  .attr("y1", 17).attr("y2", 551)
  .attr("stroke", "rgba(255,255,255,0.28)").attr("stroke-width", 1);

// notes
tracks.forEach((t, i) => {
  const g = svg.append("g").attr("transform", `translate(0,${yBand(t)})`);
  g.selectAll("rect").data(trackNotes[i]).join("rect")
    .attr("x", d => x(d[0]))
    .attr("width", d => Math.max(1.3, x(d[0] + d[1]) - x(d[0])))
    .attr("y", d => yP(d.length > 3 ? d[3] : d[2]) - 1.5)
    .attr("height", d => yP(d[2]) - yP(d.length > 3 ? d[3] : d[2]) + 3)
    .attr("fill", "#fff").attr("fill-opacity", trackNoteOpacity[i]);
});

// labels
svg.append("g").selectAll("text").data(tracks).join("text")
  .attr("x", 38).attr("y", d => yBand(d) + 8)
  .attr("fill", "#fff")
  .style("font-family", "'DejaVu Sans', sans-serif")
  .style("font-weight", "bold").style("font-size", "19px")
  .text(d => d);

// axis
const ax = svg.append("g").attr("transform", "translate(0,551)")
  .call(d3.axisBottom(x).tickValues(xTicks).tickSize(6).tickPadding(5.5).tickFormat(d3.format("d")));
ax.select(".domain").remove();
ax.selectAll(".tick line").attr("stroke", "#fff");
ax.selectAll(".tick text").attr("fill", "#fff")
  .style("font-family", "'DejaVu Sans', sans-serif").style("font-size", "13px");

svg.append("text").attr("x", 597).attr("y", 590).attr("text-anchor", "middle")
  .attr("fill", "#eee").style("font-family", "'DejaVu Sans', sans-serif").style("font-size", "13px")
  .text(axisTitle);

// playback controls overlay
const btnX = [522.5, 571.5, 619, 667.5];
const bg = svg.append("g");
bg.selectAll("ellipse").data(btnX).join("ellipse")
  .attr("cx", d => d).attr("cy", 575).attr("rx", 19.5).attr("ry", 10.5)
  .attr("fill", "rgba(62,62,62,0.92)");
const cy = 575;
bg.append("path").attr("d", `M${514},${cy-6} L${514},${cy+6} L${531},${cy} Z`)
  .attr("fill", "none").attr("stroke", "#fff").attr("stroke-width", 2.6).attr("stroke-linejoin", "miter");
bg.append("path").attr("d", `M${563},${cy-5} L${583},${cy} L${563},${cy+5}`)
  .attr("fill", "none").attr("stroke", "#fff").attr("stroke-width", 2.8);
bg.append("rect").attr("x", 608.5).attr("y", cy-5.5).attr("width", 21).attr("height", 11).attr("fill", "#fff");
bg.append("path").attr("d", `M${676},${cy-6} L${676},${cy+6} L${659},${cy} Z`)
  .attr("fill", "none").attr("stroke", "#fff").attr("stroke-width", 2.6);
</script>
</body></html>
